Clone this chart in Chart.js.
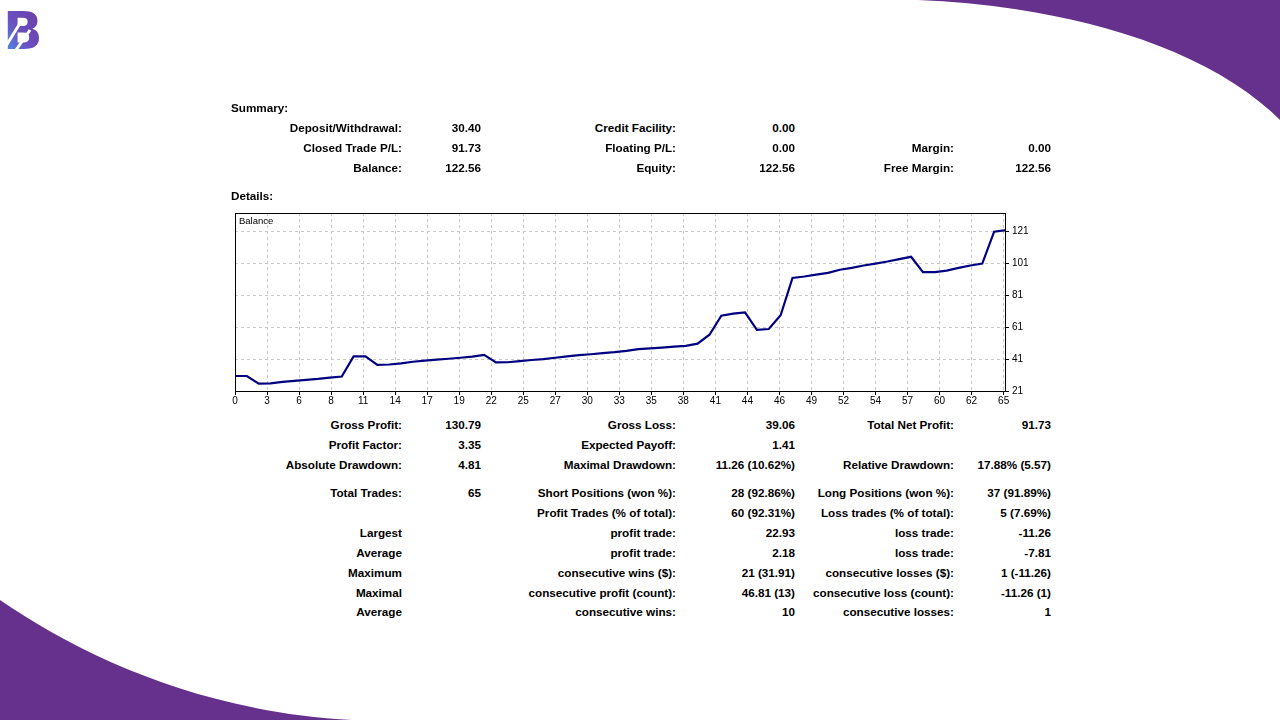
<!DOCTYPE html>
<html>
<head>
<meta charset="utf-8">
<script src="https://cdn.jsdelivr.net/npm/chart.js@4.4.1/dist/chart.umd.min.js"></script>
<style>
  html, body { margin: 0; padding: 0; background: #fff; }
  #page { position: relative; width: 1280px; height: 720px; overflow: hidden; font-family: "Liberation Sans", Arial, sans-serif; }
  #deco { position: absolute; left: 0; top: 0; }
  .t { position: absolute; font-weight: bold; font-size: 11.7px; line-height: 14px; color: #000; white-space: nowrap; }
  .r { text-align: right; }
  #chartBox { position: absolute; left: 230px; top: 204px; width: 820px; height: 212px; }
  #balLbl { position: absolute; left: 239px; top: 215px; font-size: 9.5px; line-height: 12px; color: #000; }
</style>
</head>
<body>
<div id="page">
  <svg id="deco" width="1280" height="720">
    <defs>
      <linearGradient id="lg" x1="0" y1="1" x2="1" y2="0">
        <stop offset="0" stop-color="#3fa6ee"/>
        <stop offset="0.45" stop-color="#6a4fc0"/>
        <stop offset="1" stop-color="#6d3a9c"/>
      </linearGradient>
    </defs>
    <path d="M918,0 C1050,5 1200,40 1280,120 L1280,0 Z" fill="#66308d"/>
    <path d="M0,600 C80,655 200,712 352,720 L0,720 Z" fill="#66308d"/>
    <text x="3" y="49" font-family="DejaVu Sans" font-weight="bold" font-size="52" fill="url(#lg)">B</text>
    <line x1="6" y1="46" x2="22" y2="20" stroke="#fff" stroke-width="3"/>
    <line x1="16" y1="50" x2="30" y2="30" stroke="#fff" stroke-width="3"/>
  </svg>
  <div id="chartBox"><canvas id="balanceChart" width="820" height="212"></canvas></div>
  <div id="balLbl">Balance</div>
</div>
<script>
// balance after each trade (0 = deposit)
const tradeIndex = Array.from({ length: 66 }, (_, i) => i);
const balance = [
    30.4, 30.4, 25.6, 25.8, 26.7, 27.4, 28.0, 28.6, 29.4, 30.1,
    42.7, 42.7, 37.4, 37.6, 38.3, 39.3, 40.0, 40.6, 41.2, 41.8,
    42.5, 43.6, 38.9, 39.0, 39.7, 40.4, 41.0, 41.8, 42.7, 43.4,
    44.0, 44.7, 45.3, 46.1, 47.2, 47.7, 48.2, 48.8, 49.2, 50.6,
    56.2, 68.1, 69.4, 70.2, 59.2, 59.8, 68.4, 91.7, 92.6, 93.8,
    94.9, 96.8, 98.0, 99.5, 100.7, 102.0, 103.5, 104.9, 95.3, 95.3,
    96.3, 98.0, 99.5, 100.7, 120.6, 121.6
];
const xTickLabels = ["0", "3", "6", "8", "11", "14", "17", "19", "22", "25", "27", "30", "33",
    "35", "38", "41", "44", "46", "49", "52", "54", "57", "60", "62", "65"];
const yTickValues = [21, 41, 61, 81, 101, 121];

// tablas del informe
const summaryRows = [
    [128, ["Deposit/Withdrawal:", "30.40", "Credit Facility:", "0.00", "", ""]],
    [148, ["Closed Trade P/L:", "91.73", "Floating P/L:", "0.00", "Margin:", "0.00"]],
    [168, ["Balance:", "122.56", "Equity:", "122.56", "Free Margin:", "122.56"]]
];
const detailRows = [
    [425, ["Gross Profit:", "130.79", "Gross Loss:", "39.06", "Total Net Profit:", "91.73"]],
    [445, ["Profit Factor:", "3.35", "Expected Payoff:", "1.41", "", ""]],
    [465, ["Absolute Drawdown:", "4.81", "Maximal Drawdown:", "11.26 (10.62%)", "Relative Drawdown:", "17.88% (5.57)"]],
    [493, ["Total Trades:", "65", "Short Positions (won %):", "28 (92.86%)", "Long Positions (won %):", "37 (91.89%)"]],
    [513, ["", "", "Profit Trades (% of total):", "60 (92.31%)", "Loss trades (% of total):", "5 (7.69%)"]],
    [533, ["Largest", "", "profit trade:", "22.93", "loss trade:", "-11.26"]],
    [553, ["Average", "", "profit trade:", "2.18", "loss trade:", "-7.81"]],
    [573, ["Maximum", "", "consecutive wins ($):", "21 (31.91)", "consecutive losses ($):", "1 (-11.26)"]],
    [593, ["Maximal", "", "consecutive profit (count):", "46.81 (13)", "consecutive loss (count):", "-11.26 (1)"]],
    [612, ["Average", "", "consecutive wins:", "10", "consecutive losses:", "1"]]
];
const colRight = [402, 481, 676, 795, 954, 1051];

const page = document.getElementById('page');

function addText(text, x, y, right) {
    const d = document.createElement('div');
    d.className = 't' + (right ? ' r' : '');
    d.textContent = text;
    d.style.top = (y - 7) + 'px';
    if (right) {
        d.style.right = (1280 - x) + 'px';
    } else {
        d.style.left = x + 'px';
    }
    page.appendChild(d);
}

addText("Summary:", 231, 108, false);
addText("Details:", 231, 196, false);
summaryRows.concat(detailRows).forEach(([y, cells]) => {
    cells.forEach((c, i) => { if (c) addText(c, colRight[i], y, true); });
});

// marco del gráfico
const framePlugin = {
    id: 'frame',
    afterDraw(chart) {
        const { ctx, chartArea: a } = chart;
        ctx.save();
        ctx.strokeStyle = '#000';
        ctx.lineWidth = 1;
        ctx.strokeRect(a.left + 0.5, a.top + 0.5, a.right - a.left - 1, a.bottom - a.top - 1);
        ctx.restore();
    }
};

const xStep = 2.7;

new Chart(document.getElementById('balanceChart'), {
    type: 'line',
    data: {
        datasets: [{
            label: 'Balance',
            data: tradeIndex.map((x, i) => ({ x: x, y: balance[i] })),
            borderColor: '#000080',
            borderWidth: 2.2,
            pointRadius: 0,
            tension: 0,
            fill: false
        }]
    },
    options: {
        responsive: false,
        animation: false,
        devicePixelRatio: 1,
        layout: { padding: { left: 5, top: 5, right: 4, bottom: 0 } },
        plugins: { legend: { display: false }, tooltip: { enabled: false } },
        scales: {
            x: {
                type: 'linear',
                min: 0,
                max: 65,
                afterBuildTicks: s => { s.ticks = xTickLabels.map((l, k) => ({ value: k * xStep })); },
                afterFit: s => { s.height = 24; },
                ticks: {
                    autoSkip: false,
                    maxRotation: 0,
                    padding: 0,
                    color: '#000',
                    font: { family: 'Liberation Sans', size: 10 },
                    callback: (v, i) => xTickLabels[i]
                },
                grid: { color: '#c8c8c8', tickColor: '#000', tickLength: 3, tickBorderDash: [] },
                border: { display: false, dash: [3, 3] }
            },
            y: {
                type: 'linear',
                position: 'right',
                min: 20.4,
                max: 132.3,
                afterBuildTicks: s => { s.ticks = yTickValues.map(v => ({ value: v })); },
                afterFit: s => { s.width = 40; },
                ticks: {
                    color: '#000',
                    padding: 3,
                    font: { family: 'Liberation Sans', size: 10 },
                    callback: v => String(v)
                },
                grid: { color: '#c8c8c8', tickColor: '#000', tickLength: 3, tickBorderDash: [] },
                border: { display: false, dash: [3, 3] }
            }
        }
    },
    plugins: [framePlugin]
});
</script>
</body>
</html>
